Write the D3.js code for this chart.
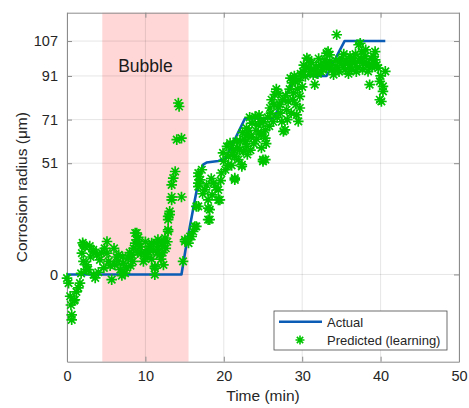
<!DOCTYPE html>
<html>
<head>
<meta charset="utf-8">
<script src="https://cdn.jsdelivr.net/npm/d3@7"></script>
<style>
  html, body { margin: 0; padding: 0; background: #fff; }
  svg { display: block; font-family: "Liberation Sans", Arial, sans-serif; }
</style>
</head>
<body>
<svg id="chart" width="469" height="408"></svg>
<script>
// Measured corrosion radius (µm) against time (min)
const actualTime   = [0, 14.6, 15.1, 16.3, 17.0, 17.4, 17.8, 19.3, 20.2, 22.7, 26.3, 29.3, 33.1, 35.4, 40.6];
const actualRadius = [0, 0, 11, 34, 47, 50.5, 51.3, 52, 53, 71.5, 71.5, 91, 91, 107, 107];

// Model output during learning: [time, radius]
const predicted = [
  [0,-1.7],[0.2,-4],[0.4,-10],[0.5,-14],[0.6,-18.5],[0.6,-20.8],[0.9,-12],[1.0,-11.6],[1.2,-8],
  [1.45,-6.2],[1.65,-4],[1.8,0.5],[1.9,9.8],[2.0,14.5],[2.1,13.6],[2.1,6],[2.3,12.8],[2.5,4.4],
  [2.5,2.2],[2.7,2.2],[2.9,13],[3.0,8],[3.35,11.3],[3.35,10.5],[3.4,-0.1],[3.6,-1.6],[3.8,9],
  [4.0,1],[4.2,6.7],[4.4,10],[4.7,3],[4.8,12],[5.1,15.1],[5.1,9.8],[5.3,6],
  [5.5,4],[5.7,-2.4],[6.0,12],[6.1,4.4],[6.3,8],[6.5,6],[6.6,9],[6.8,2.2],[7.0,-0.5],[7.1,8],
  [7.2,5],[7.4,0.6],[7.6,3],[7.8,7.5],[8.0,10],[8.1,4],[8.25,9],[8.4,6],[8.5,12],[8.7,19],
  [8.7,14.4],[8.9,15.9],[8.9,19],[9.0,10],[9.1,17],[9.2,14],[9.3,12.8],[9.5,9.8],[9.75,6],
  [9.95,8.3],[10.0,15],[10.2,8.3],[10.2,11.3],[10.4,10],[10.6,12.8],[10.8,14.4],[10.8,7],
  [11.0,11.3],[11.2,2.9],[11.2,3.7],[11.2,-0.1],[11.4,14.4],[11.5,10],[11.6,16],[11.65,12.8],
  [11.8,9],[12.0,7],[12.1,14.4],[12.2,10],[12.3,4.4],[12.3,14.4],[12.5,16.7],[12.6,12],
  [12.8,15],[12.9,19.7],[12.9,20.5],[12.9,25.1],[12.9,26.6],[13.1,27.4],[13.1,28.9],[13.35,34.2],
  [13.35,35.5],[13.35,41.1],[13.55,44.2],[13.8,47.2],[14.0,61.8],[14.2,78.6],[14.3,77],[14.6,62.5],
  [14.6,35.5],[14.8,6],
  [15.05,15.1],[15.05,15.9],[15.5,14.4],[15.7,17.4],[15.9,17.4],[16.1,19.7],[16.3,22],[16.5,22],
  [16.5,31.2],[16.75,31.2],[16.75,40.3],[16.75,41.9],[16.75,44.9],[16.75,46.5],[17.0,43.4],
  [17.2,48],[17.3,37],[17.6,38.8],[17.8,41],[18.0,30.4],[18.0,34.2],[18.0,25.1],[18.2,29.7],
  [18.2,25.1],[18.4,44],[18.5,36.5],[18.7,41.9],[19.0,40],[19.3,38.8],[19.3,34.2],[19.5,34.2],
  [19.6,43],[19.7,46.5],[19.9,55.7],
  [20.0,52],[20.2,48],[20.4,58.7],[20.5,50],[20.6,54],[20.8,60.2],[21.0,50],[21.1,55],[21.2,57.2],
  [21.4,54.1],[21.4,44.2],[21.4,43.4],[21.6,61],[21.7,58],[21.85,52.6],[22.0,57],[22.1,61],
  [22.3,49.5],[22.3,50.3],[22.4,65],[22.5,56.4],[22.6,62],[22.8,61],[22.9,58.7],[23.0,55],
  [23.1,64],[22.9,67.1],[23.2,66],[23.3,72],[23.4,57],[23.5,63],[23.6,69.4],[23.8,60],
  [24.0,72.4],[24.1,66],[24.2,62],[24.4,68.6],[24.5,73],[24.6,70],[24.8,64.8],[25.0,52.6],
  [24.8,64],[24.8,58],[25.0,51.8],[25.1,70],[25.3,66.3],[25.3,62.5],[25.3,52.6],[25.4,60],
  [25.6,72],[25.8,68],[25.9,76.3],[26.0,74],[26.1,80.1],[26.3,70],[26.4,78],[26.5,82.4],
  [26.7,85],[26.8,72],[26.95,77],[27.0,83],[27.1,78],[27.2,74],[27.4,70],[27.5,80],[27.6,65.6],
  [27.8,66.3],[27.9,82],[28.0,75.5],[28.1,71],[28.2,79.3],[28.4,85],[28.5,90],[28.6,74],
  [28.7,87.8],[28.8,80],[28.9,83.2],[29.0,91],[29.1,88.5],[29.2,78],[29.3,73.2],[29.4,85],
  [29.5,70.2],[29.6,89],[29.7,76.3],[29.7,81.6],[29.8,92],[30.0,86],[30.1,93],[30.2,96],[30.4,90.8],
  [30.5,95],[30.6,99.2],[30.8,94.6],[30.8,98.4],[31.0,93],[31.2,97],[31.4,91.6],[31.5,94],
  [31.6,87],[31.8,95],[32.0,92],[32.1,99],[32.3,96.1],[32.4,93],[32.6,94],[32.8,96],[32.9,98.4],
  [33.0,96],[33.1,94.6],[33.1,101.5],[33.3,102.2],[33.5,97.7],[33.5,100.7],[33.7,96],[33.8,93.9],
  [34.0,91.6],[34.2,94],[34.3,98],[34.4,109.9],[34.5,95],[34.7,93],[34.8,97.7],[35.0,99],
  [35.2,96],[35.3,101],[35.5,93.9],[35.6,98],[35.8,97],[35.9,92],[36.0,95],[36.1,100],[36.3,94],
  [36.4,97],[36.5,99],[36.7,96.9],[36.8,101],[36.9,93],[37.0,95],[37.2,105.3],[37.3,98],
  [37.4,106],[37.5,99],[37.6,102.2],[37.7,94],[37.8,96.9],[38.0,100],[38.1,103],[38.2,97],
  [38.4,93.1],[38.5,96],[38.6,87],[38.8,99],[38.9,95],[39.0,96],[39.1,100],[39.3,102.2],
  [39.3,98.4],[39.5,96],[39.7,94.6],[39.9,88.5],[39.9,80.1],[40.0,91],[40.1,79.3],[40.3,86.2],
  [40.3,83.9],[40.6,93.1]
];

const bubbleSpan = [4.5, 15.5];
const xTicks = [0, 10, 20, 30, 40, 50];
const yTicks = [0, 51, 71, 91, 107];

const svg = d3.select("#chart");
const plotLeft = 67, plotRight = 459, plotTop = 12.7, plotBottom = 361.7;

const x = d3.scaleLinear().domain([0, 50]).range([plotLeft, plotRight]);
const y = d3.scaleLinear().domain([-40, 120]).range([plotBottom, plotTop]);

const axisGray = "#8c8c8c";
const textColor = "#262626";

// bubble interval shading
svg.append("rect")
  .attr("x", x(bubbleSpan[0])).attr("y", plotTop)
  .attr("width", x(bubbleSpan[1]) - x(bubbleSpan[0]))
  .attr("height", plotBottom - plotTop)
  .attr("fill", "#ffd7d7");

svg.append("text")
  .attr("x", x(10)).attr("y", y(91) - 4)
  .attr("text-anchor", "middle")
  .attr("font-size", 17.5)
  .attr("fill", "#1a1a1a")
  .text("Bubble");

// grid
const grid = svg.append("g").attr("stroke", "rgba(0,0,0,0.1)").attr("stroke-width", 1);
xTicks.forEach(t => grid.append("line")
  .attr("x1", x(t)).attr("x2", x(t)).attr("y1", plotTop).attr("y2", plotBottom));
yTicks.forEach(t => grid.append("line")
  .attr("x1", plotLeft).attr("x2", plotRight).attr("y1", y(t)).attr("y2", y(t)));

// axes with inward ticks on all four sides
const tickLen = 5;
const axB = svg.append("g").attr("transform", `translate(0,${plotBottom})`)
  .call(d3.axisBottom(x).tickValues(xTicks).tickSizeInner(-tickLen).tickSizeOuter(0).tickPadding(9));
const axT = svg.append("g").attr("transform", `translate(0,${plotTop})`)
  .call(d3.axisTop(x).tickValues(xTicks).tickSizeInner(-tickLen).tickSizeOuter(0).tickFormat(""));
const axL = svg.append("g").attr("transform", `translate(${plotLeft},0)`)
  .call(d3.axisLeft(y).tickValues(yTicks).tickSizeInner(-tickLen).tickSizeOuter(0).tickPadding(9));
const axR = svg.append("g").attr("transform", `translate(${plotRight},0)`)
  .call(d3.axisRight(y).tickValues(yTicks).tickSizeInner(-tickLen).tickSizeOuter(0).tickFormat(""));
[axB, axT, axL, axR].forEach(a => {
  a.select(".domain").attr("stroke", axisGray);
  a.selectAll(".tick line").attr("stroke", axisGray);
  a.selectAll(".tick text").attr("fill", textColor)
    .attr("font-size", 14.5).attr("font-family", "Liberation Sans, Arial, sans-serif");
});

// axis titles
svg.append("text")
  .attr("x", (plotLeft + plotRight) / 2).attr("y", 401)
  .attr("text-anchor", "middle").attr("font-size", 15.5).attr("fill", textColor)
  .text("Time (min)");
svg.append("text")
  .attr("transform", `translate(27,${(plotTop + plotBottom) / 2}) rotate(-90)`)
  .attr("text-anchor", "middle").attr("font-size", 15.5).attr("fill", textColor)
  .text("Corrosion radius (μm)");

// actual radius
const lineColor = "#0b5cb5";
const starColor = "#00c400";
svg.append("path")
  .datum(actualTime.map((t, i) => [t, actualRadius[i]]))
  .attr("fill", "none").attr("stroke", lineColor).attr("stroke-width", 2.6)
  .attr("stroke-linejoin", "round")
  .attr("d", d3.line().x(d => x(d[0])).y(d => y(d[1])));

// asterisk marker
function star(r) {
  const a = r * 0.7071;
  return `M${-r},0L${r},0M0,${-r}L0,${r}M${-a},${-a}L${a},${a}M${-a},${a}L${a},${-a}`;
}
svg.append("g")
  .selectAll("path").data(predicted).join("path")
  .attr("transform", d => `translate(${x(d[0])},${y(d[1])})`)
  .attr("d", star(5.3))
  .attr("fill", "none").attr("stroke", starColor).attr("stroke-width", 1.7);

// legend
const lg = svg.append("g");
lg.append("rect").attr("x", 274).attr("y", 311).attr("width", 173).attr("height", 39)
  .attr("fill", "#fff").attr("stroke", "#4a4a4a").attr("stroke-width", 0.8);
lg.append("line").attr("x1", 279).attr("x2", 322).attr("y1", 321.7).attr("y2", 321.7)
  .attr("stroke", lineColor).attr("stroke-width", 2.6);
lg.append("text").attr("x", 327).attr("y", 326.5).attr("font-size", 13).attr("fill", textColor)
  .text("Actual");
lg.append("path").attr("transform", "translate(300,340)").attr("d", star(4.5))
  .attr("fill", "none").attr("stroke", starColor).attr("stroke-width", 1.6);
lg.append("text").attr("x", 327).attr("y", 345).attr("font-size", 13).attr("fill", textColor)
  .text("Predicted (learning)");
</script>
</body>
</html>
